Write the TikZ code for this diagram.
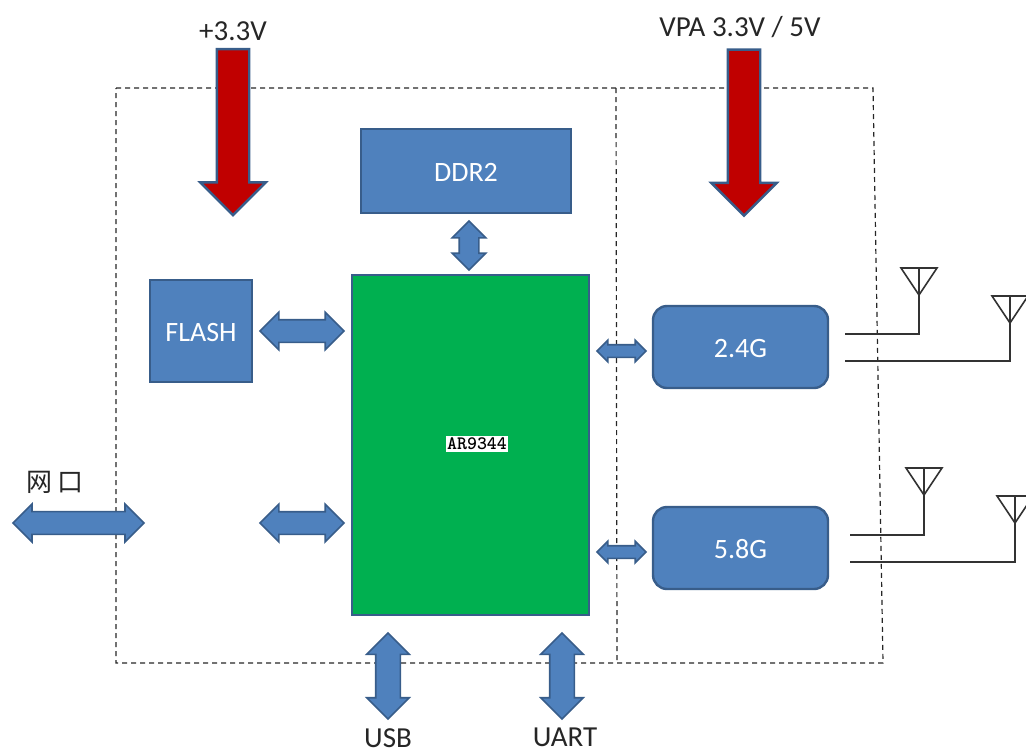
\documentclass[tikz,border=0pt]{standalone}
\usepackage{fontspec}
\setmainfont{Carlito}
\newfontfamily\cjk{Noto Sans CJK SC}
\usetikzlibrary{shapes.arrows}
\definecolor{blockcol}{HTML}{4F81BD}
\definecolor{edgecol}{HTML}{385D8A}
\definecolor{chipcol}{HTML}{00B050}
\definecolor{powercol}{HTML}{C00000}
\tikzset{
  block/.style    = {rectangle, draw=edgecol, line width=1.2pt, fill=blockcol,
                     text=white, font=\fontsize{14}{16}\selectfont, text height=10.9pt,
                     inner sep=0pt, minimum width=#1},
  radio/.style    = {block=87.5pt, rounded corners=7pt, minimum height=41pt},
  link/.style     = {double arrow, draw=edgecol, line width=0.8pt, fill=blockcol,
                     outer sep=0pt, shape border rotate=#1,
                     inner sep=5.25pt, double arrow head extend=3.75pt,
                     double arrow tip angle=90},
  power/.style    = {single arrow, draw=edgecol, line width=1.2pt, fill=powercol,
                     inner sep=7.5pt, outer sep=0pt, shape border rotate=270,
                     minimum width=32pt, minimum height=83pt,
                     single arrow head extend=8.25pt, single arrow tip angle=90},
  lab/.style      = {inner sep=0pt, font=\fontsize{14.5}{16}\selectfont, text=black!85},
  frame/.style    = {dash pattern=on 2.5pt off 2pt, line width=0.6pt, black!85},
  wire/.style     = {line width=0.8pt, black!80},
  antenna/.pic    = {\draw[wire] (-18,-27) -- (18,-27) -- (0,0) -- cycle (0,0) -- (0,-27);},
}
\begin{document}
\begin{tikzpicture}[x=0.5pt, y=-0.5pt]
  \useasboundingbox (0,0) rectangle (1026,752);

  % outer frame and divider
  \draw[frame] (116,88) -- (873,88) -- (883,663) -- (116,663) -- cycle;
  \draw[frame] (616,88) -- (617,663);

  \node[block=105pt, minimum height=42pt] (ddr) at (466,171) {DDR2};
  \node[block=51pt, minimum height=51pt] (flash) at (201,331) {FLASH};
  \node[rectangle, draw=edgecol, line width=1.2pt, fill=chipcol, inner sep=0pt,
        minimum width=118.5pt, minimum height=170pt] (chip) at (470.5,445) {};
  \node[fill=white, inner xsep=0.6pt, inner ysep=1pt, font=\ttfamily\bfseries\fontsize{9.5}{10}\selectfont] (chiplab) at (477,444) {AR9344};
  \node[radio] (wifia) at (740.5,347) {2.4G};
  \node[radio] (wifib) at (740.5,548) {5.8G};

  % power feeds
  \node[power] (pwra) at (233,124) {};
  \node[power] (pwrb) at (744,124.5) {};
  \node[lab, above=0pt] (pwralab) at (233,41) {+3.3V};
  \node[lab, above=0pt] (pwrblab) at (740,38) {VPA 3.3V / 5V};

  % bus arrows
  \node[link=90, minimum width=16pt, minimum height=24.5pt, inner sep=4.5pt, double arrow head extend=3.5pt] (ddrbus) at (469,245.5) {};
  \node[link=0, minimum width=18pt, minimum height=42pt] (flashbus) at (302,331) {};
  \node[link=0, minimum width=18pt, minimum height=42pt] (lanbus) at (302,523) {};
  \node[link=0, minimum width=19pt, minimum height=65.5pt] (netbus) at (78.5,523) {};
  \node[link=0, minimum width=10pt, minimum height=24.5pt, inner sep=2.75pt, double arrow head extend=2.25pt] (wifiabus) at (621.5,351) {};
  \node[link=0, minimum width=10pt, minimum height=24.5pt, inner sep=2.75pt, double arrow head extend=2.25pt] (wifibbus) at (621.5,552) {};
  \node[link=90, minimum width=21pt, minimum height=43pt, inner sep=5.75pt, double arrow head extend=4.5pt] (usbbus) at (388,676) {};
  \node[link=90, minimum width=21pt, minimum height=43pt, inner sep=5.75pt, double arrow head extend=4.5pt] (uartbus) at (562,676) {};

  \node[lab, font=\fontsize{13}{15}\selectfont] (netlab) at (55,482) {\cjk 网\,口};
  \node[lab] (usblab) at (388,738) {USB};
  \node[lab] (uartlab) at (565,737) {UART};

  % antennas
  \coordinate (anta) at (919,295);
  \coordinate (antb) at (1010,323);
  \coordinate (antc) at (924,495);
  \coordinate (antd) at (1015,523);
  \coordinate (fromwifia) at (845,334);
  \coordinate (fromwifib) at (845,361);
  \coordinate (fromwific) at (850,535);
  \coordinate (fromwifid) at (850,562);
  \draw[wire] (fromwifia) -| (anta);
  \draw[wire] (fromwifib) -| (antb);
  \draw[wire] (fromwific) -| (antc);
  \draw[wire] (fromwifid) -| (antd);
  \pic at (anta) {antenna};
  \pic at (antb) {antenna};
  \pic at (antc) {antenna};
  \pic at (antd) {antenna};
\end{tikzpicture}
\end{document}
